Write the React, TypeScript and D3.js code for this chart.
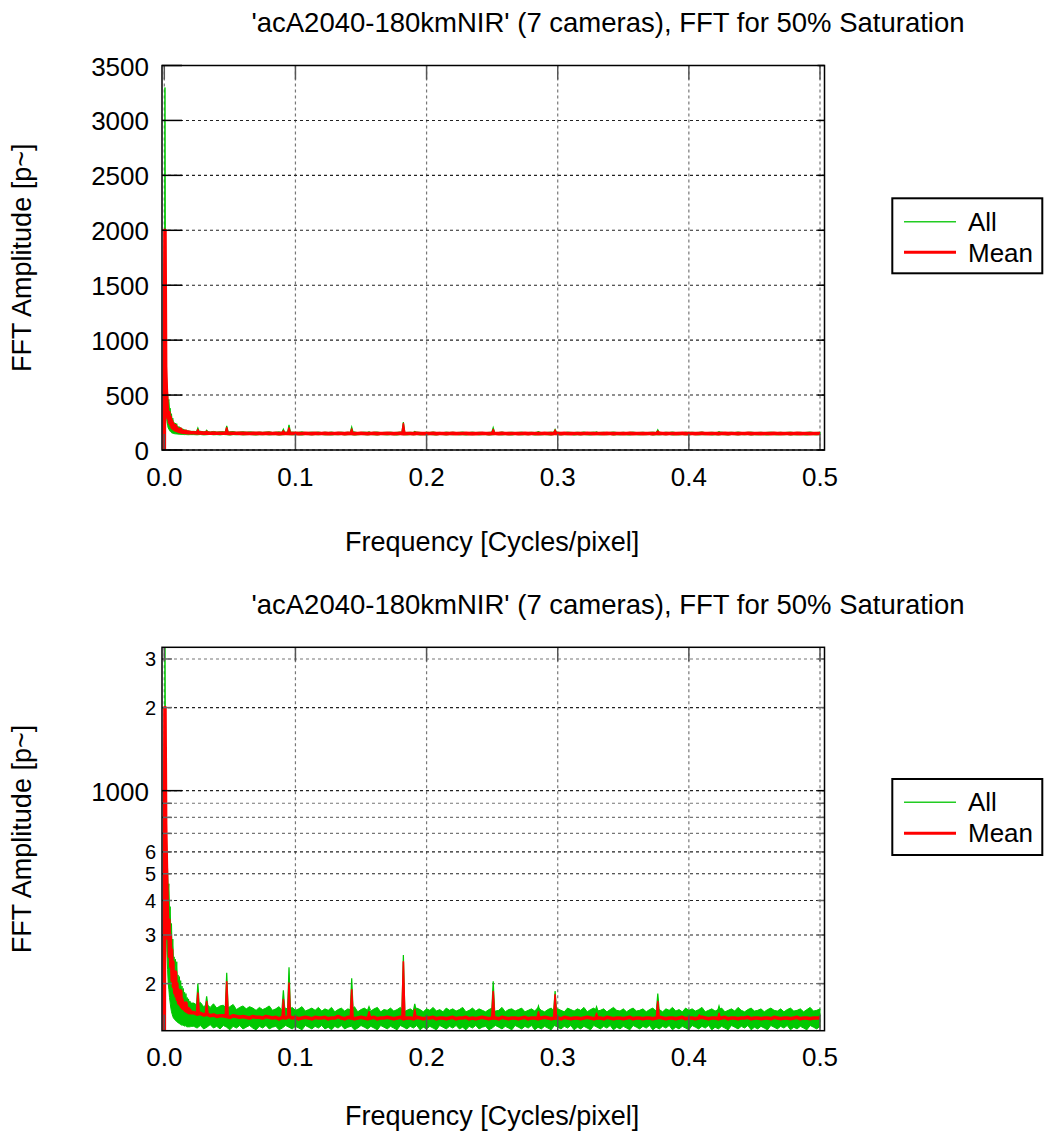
import React from 'react';
import * as d3 from 'd3';

// ---------------- data ----------------
const titleText = "'acA2040-180kmNIR' (7 cameras), FFT for 50% Saturation";
const xAxisLabel = 'Frequency [Cycles/pixel]';
const yAxisLabel = 'FFT Amplitude [p~]';
const legendLabels = ['All', 'Mean'];

const xTicks = [0, 0.1, 0.2, 0.3, 0.4, 0.5];
const xTickLabels = ['0.0', '0.1', '0.2', '0.3', '0.4', '0.5'];
const linTicks = [0, 500, 1000, 1500, 2000, 2500, 3000, 3500];
const linTickLabels = ['0', '500', '1000', '1500', '2000', '2500', '3000', '3500'];
const logTicks = [200, 300, 400, 500, 600, 700, 800, 900, 1000, 2000, 3000];
const logTickLabels = ['2', '3', '4', '5', '6', '', '', '', '1000', '2', '3'];
const linDomain = [0, 3500];
const logDomain = [135, 3307];

const freqs = [
  0, 0.0005, 0.001, 0.0015, 0.002, 0.0025, 0.003, 0.0035, 0.004, 0.0045, 0.005, 0.0055, 0.006, 0.0065, 0.007, 0.0075, 0.008, 0.0085, 0.009, 0.0095,
  0.01, 0.0105, 0.011, 0.0115, 0.012, 0.0125, 0.013, 0.0135, 0.014, 0.0145, 0.015, 0.0155, 0.016, 0.0165, 0.017, 0.0175, 0.018, 0.0185, 0.019, 0.0195, 0.02,
  0.0225, 0.025, 0.0275, 0.03, 0.0325, 0.035, 0.0375, 0.04, 0.0425, 0.045, 0.0475, 0.05, 0.0525, 0.055, 0.0575, 0.06, 0.0625, 0.065, 0.0675, 0.07,
  0.0725, 0.075, 0.0775, 0.08, 0.0825, 0.085, 0.0875, 0.09, 0.0925, 0.095, 0.0975, 0.1, 0.1025, 0.105, 0.1075, 0.11, 0.1125, 0.115, 0.1175, 0.12,
  0.1225, 0.125, 0.1275, 0.13, 0.1325, 0.135, 0.1375, 0.14, 0.1425, 0.145, 0.1475, 0.15, 0.1525, 0.155, 0.1575, 0.16, 0.1625, 0.165, 0.1675, 0.17,
  0.1725, 0.175, 0.1775, 0.18, 0.1825, 0.185, 0.1875, 0.19, 0.1925, 0.195, 0.1975, 0.2, 0.2025, 0.205, 0.2075, 0.21, 0.2125, 0.215, 0.2175, 0.22,
  0.2225, 0.225, 0.2275, 0.23, 0.2325, 0.235, 0.2375, 0.24, 0.2425, 0.245, 0.2475, 0.25, 0.2525, 0.255, 0.2575, 0.26, 0.2625, 0.265, 0.2675, 0.27,
  0.2725, 0.275, 0.2775, 0.28, 0.2825, 0.285, 0.2875, 0.29, 0.2925, 0.295, 0.2975, 0.3, 0.3025, 0.305, 0.3075, 0.31, 0.3125, 0.315, 0.3175, 0.32,
  0.3225, 0.325, 0.3275, 0.33, 0.3325, 0.335, 0.3375, 0.34, 0.3425, 0.345, 0.3475, 0.35, 0.3525, 0.355, 0.3575, 0.36, 0.3625, 0.365, 0.3675, 0.37,
  0.3725, 0.375, 0.3775, 0.38, 0.3825, 0.385, 0.3875, 0.39, 0.3925, 0.395, 0.3975, 0.4, 0.4025, 0.405, 0.4075, 0.41, 0.4125, 0.415, 0.4175, 0.42,
  0.4225, 0.425, 0.4275, 0.43, 0.4325, 0.435, 0.4375, 0.44, 0.4425, 0.445, 0.4475, 0.45, 0.4525, 0.455, 0.4575, 0.46, 0.4625, 0.465, 0.4675, 0.47,
  0.4725, 0.475, 0.4775, 0.48, 0.4825, 0.485, 0.4875, 0.49, 0.4925, 0.495, 0.4975, 0.5,
];

const meanAmp = [
  0, 2000, 760, 560, 430, 330, 290, 340, 250, 300, 230, 265, 205, 240, 195, 210, 185, 220, 180, 200,
  175, 190, 170, 182, 168, 188, 165, 175, 163, 170, 162, 168, 160, 170, 159, 163, 158, 162, 157, 160, 157,
  157, 155, 156, 154, 155, 153, 154, 152, 153, 153, 152, 151, 153, 152, 151, 152, 151, 150, 152, 151,
  151, 150, 152, 151, 150, 151, 149, 151, 150, 152, 150, 151, 149, 150, 151, 150, 149, 151, 150, 150,
  151, 149, 150, 150, 152, 150, 149, 151, 150, 149, 150, 151, 150, 149, 150, 151, 149, 150, 150, 151,
  150, 149, 150, 151, 149, 150, 150, 149, 151, 150, 149, 150, 150, 151, 149, 150, 150, 149, 150, 151,
  149, 150, 150, 151, 149, 150, 149, 150, 151, 150, 149, 150, 150, 149, 151, 150, 149, 150, 150, 149,
  150, 151, 149, 150, 150, 149, 150, 151, 150, 149, 150, 150, 149, 151, 150, 149, 150, 150, 149, 150,
  151, 150, 149, 150, 150, 149, 151, 150, 149, 150, 150, 149, 150, 151, 149, 150, 150, 149, 150, 150,
  149, 150, 151, 150, 149, 150, 150, 149, 150, 151, 149, 150, 150, 149, 150, 151, 150, 149, 150, 150,
  149, 150, 151, 149, 150, 150, 149, 150, 150, 151, 149, 150, 150, 149, 150, 150, 149, 151, 150, 149,
  150, 150, 149, 150, 151, 149, 150, 150, 149, 150, 150, 150,
];

const allMax = [
  0, 3300, 1050, 720, 580, 520, 430, 460, 360, 380, 300, 330, 260, 290, 245, 250, 232, 245, 215, 240,
  205, 215, 198, 212, 192, 205, 186, 196, 182, 192, 178, 186, 176, 184, 172, 178, 170, 176, 168, 173, 170,
  170, 167, 171, 165, 168, 164, 169, 163, 166, 167, 162, 165, 168, 161, 164, 166, 162, 165, 163, 160,
  164, 161, 163, 166, 160, 162, 165, 159, 163, 161, 164, 160, 162, 165, 159, 161, 163, 160, 164, 159,
  162, 160, 164, 158, 161, 163, 159, 162, 160, 165, 158, 161, 163, 160, 159, 162, 164, 158, 161, 160,
  163, 159, 161, 164, 158, 160, 162, 159, 163, 161, 158, 162, 160, 164, 159, 161, 158, 163, 160, 162,
  159, 161, 164, 158, 160, 163, 159, 162, 160, 158, 161, 163, 159, 160, 164, 158, 161, 162, 159, 161,
  163, 158, 160, 162, 159, 164, 160, 158, 161, 163, 159, 162, 160, 158, 163, 161, 159, 162, 160, 164,
  158, 161, 163, 159, 160, 162, 158, 161, 164, 160, 159, 162, 158, 161, 163, 159, 160, 162, 158, 161,
  163, 159, 161, 158, 162, 160, 164, 159, 161, 158, 163, 160, 162, 159, 161, 164, 158, 160, 162, 159,
  161, 163, 158, 160, 162, 159, 164, 160, 158, 161, 163, 159, 160, 162, 158, 161, 163, 160, 159, 162,
  158, 161, 163, 159, 160, 162, 158, 161, 164, 159, 160, 162,
];

const allMin = [
  0, 1100, 480, 330, 260, 225, 200, 190, 178, 170, 163, 158, 155, 152, 150, 149, 148, 147, 146, 146,
  145, 144, 144, 143, 143, 142, 142, 141, 142, 141, 141, 140, 141, 140, 140, 139, 140, 139, 140, 139, 140,
  140, 138, 141, 137, 139, 142, 138, 140, 137, 141, 139, 136, 140, 138, 141, 137, 139, 141, 138, 136,
  140, 138, 141, 137, 139, 140, 136, 138, 141, 139, 137, 140, 138, 136, 141, 139, 137, 140, 138, 141,
  137, 139, 136, 140, 138, 141, 137, 139, 140, 136, 138, 141, 139, 137, 140, 138, 136, 141, 139, 137,
  140, 138, 136, 141, 139, 137, 140, 138, 141, 136, 139, 137, 140, 138, 136, 141, 139, 137, 140, 138,
  141, 137, 139, 136, 140, 138, 141, 137, 139, 140, 136, 138, 141, 139, 137, 140, 138, 136, 141, 139,
  137, 140, 138, 141, 136, 139, 137, 140, 138, 136, 141, 139, 137, 140, 138, 141, 136, 139, 137, 140,
  138, 136, 141, 139, 137, 140, 138, 141, 136, 139, 137, 140, 138, 136, 141, 139, 137, 140, 138, 141,
  136, 139, 137, 140, 138, 141, 136, 139, 137, 140, 138, 136, 141, 139, 137, 140, 138, 141, 136, 139,
  137, 140, 138, 136, 141, 139, 137, 140, 138, 141, 136, 139, 137, 140, 138, 136, 141, 139, 137, 140,
  138, 141, 136, 139, 137, 140, 138, 136, 141, 139, 137, 140,
];

// narrow spectral peaks
const peakFreqs = [0.0256, 0.0323, 0.0476, 0.0908, 0.0951, 0.1429, 0.1561, 0.1823, 0.191, 0.2508, 0.2853, 0.298, 0.3296, 0.3763, 0.408, 0.423];
const peakMean = [185, 172, 203, 175, 201, 190, 158, 240, 161, 187, 158, 182, 156, 172, 154, 156];
const peakAll = [200, 180, 219, 189, 229, 209, 165, 254, 169, 204, 166, 188, 165, 184, 158, 166];
const peakMeanBase = [155, 154, 152, 150, 151, 149, 151, 150, 150, 150, 150, 150, 150, 150, 150, 149];
const peakAllBase = [165, 163, 162, 160, 160, 160, 160, 160, 159, 159, 159, 159, 159, 159, 159, 159];

// ---------------- layout ----------------
const FONT = '"Liberation Sans", Arial, Helvetica, sans-serif';
const GREEN = '#00c800';
const RED = '#ff0000';
const X0 = 164.3;
const X1 = 820;
const FRAME_L = 162;
const FRAME_R = 824.5;
const PEAK_HW = 0.0011;

const panels = [
  {
    id: 'lin', kind: 'linear', top: 65.5, bottom: 450, titleY: 32, xTickY: 485.7, xLabelY: 551,
    legTop: 198.3, legBottom: 273.3, legLine1: 221.7, legLine2: 252.3, legText1: 230.5, legText2: 261.5,
  },
  {
    id: 'log', kind: 'log', top: 647.3, bottom: 1030.7, titleY: 613.5, xTickY: 1065.7, xLabelY: 1125,
    legTop: 779, legBottom: 855, legLine1: 802.3, legLine2: 833.3, legText1: 811, legText2: 842,
  },
];

type P = typeof panels[number];

function Panel({ p }: { p: P }) {
  const x = d3.scaleLinear().domain([0, 0.5]).range([X0, X1]);
  const isLog = p.kind === 'log';
  const yScale: any = isLog
    ? d3.scaleLog().domain(logDomain).range([p.bottom, p.top]).clamp(true)
    : d3.scaleLinear().domain(linDomain).range([p.bottom, p.top]);
  const y = (v: number) => (isLog && v <= 0 ? p.bottom : yScale(v));

  const ticks = isLog ? logTicks : linTicks;
  const tickLabels = isLog ? logTickLabels : linTickLabels;

  const n = Math.min(freqs.length, meanAmp.length, allMax.length, allMin.length);
  const idx = d3.range(n);
  const area = d3.area<number>().x(i => x(freqs[i])).y0(i => y(allMin[i])).y1(i => y(allMax[i]));
  const line = d3.line<number>().x(i => x(freqs[i])).y(i => y(meanAmp[i]));
  const tri = d3.line<[number, number]>().x(d => x(d[0])).y(d => y(d[1]));
  const clipId = `clip-${p.id}`;
  const midY = (p.top + p.bottom) / 2;

  return (
    <g>
      <defs>
        <clipPath id={clipId}>
          <rect x={FRAME_L} y={p.top} width={FRAME_R - FRAME_L} height={p.bottom - p.top} />
        </clipPath>
      </defs>
      <text x={608} y={p.titleY} textAnchor="middle" fontSize={27.5} fontFamily={FONT} fill="#000">{titleText}</text>
      {xTicks.map((t, i) => (
        <line key={`vg${i}`} x1={x(t)} x2={x(t)} y1={p.top} y2={p.bottom} stroke="#777" strokeWidth={1.2} strokeDasharray="3,3" />
      ))}
      {ticks.map((t, i) => {
        const major = !isLog || [300, 400, 500, 600, 1000, 2000].includes(t);
        return (
          <line key={`hg${i}`} x1={FRAME_L} x2={FRAME_R} y1={yScale(t)} y2={yScale(t)}
            stroke={major ? '#222' : '#777'} strokeWidth={1.1} strokeDasharray="3,3" />
        );
      })}
      <g clipPath={`url(#${clipId})`}>
        <path d={area(idx) || ''} fill={GREEN} stroke={GREEN} strokeWidth={1} />
        {peakFreqs.map((f, i) => (
          <path key={`pa${i}`} d={tri([[f - PEAK_HW, peakAllBase[i]], [f, peakAll[i]], [f + PEAK_HW, peakAllBase[i]]]) || ''}
            fill={GREEN} stroke={GREEN} strokeWidth={1.2} />
        ))}
        <path d={line(idx) || ''} fill="none" stroke={RED} strokeWidth={3.6} strokeLinejoin="round" />
        {peakFreqs.map((f, i) => (
          <path key={`pm${i}`} d={tri([[f - PEAK_HW, peakMeanBase[i]], [f, peakMean[i]], [f + PEAK_HW, peakMeanBase[i]]]) || ''}
            fill={RED} stroke={RED} strokeWidth={1.6} strokeLinejoin="round" />
        ))}
      </g>
      {xTicks.map((t, i) => (
        <g key={`xt${i}`}>
          <line x1={x(t)} x2={x(t)} y1={p.bottom} y2={p.bottom - 16} stroke="#555" strokeWidth={1.5} />
          <line x1={x(t)} x2={x(t)} y1={p.top} y2={p.top + 14} stroke="#555" strokeWidth={1.5} />
          <text x={x(t)} y={p.xTickY} textAnchor="middle" fontSize={26} fontFamily={FONT}>{xTickLabels[i]}</text>
        </g>
      ))}
      {ticks.map((t, i) => {
        const big = !isLog || t === 1000;
        const lbl = tickLabels[i];
        return (
          <g key={`yt${i}`}>
            <line x1={FRAME_L} x2={FRAME_L + (big ? 20 : 10)} y1={yScale(t)} y2={yScale(t)} stroke={big ? '#000' : '#666'} strokeWidth={1.5} />
            <line x1={FRAME_R - 7} x2={FRAME_R} y1={yScale(t)} y2={yScale(t)} stroke={big ? '#000' : '#666'} strokeWidth={1.5} />
            {lbl && (
              <text x={big ? 149 : 156} y={yScale(t) + (big ? 10 : 7.5)} textAnchor="end"
                fontSize={big ? 26 : 20} fontFamily={FONT}>{lbl}</text>
            )}
          </g>
        );
      })}
      <rect x={FRAME_L} y={p.top} width={FRAME_R - FRAME_L} height={p.bottom - p.top} fill="none" stroke="#000" strokeWidth={1.5} />
      <text x={(X0 + X1) / 2} y={p.xLabelY} textAnchor="middle" fontSize={27} fontFamily={FONT}>{xAxisLabel}</text>
      <text transform={`translate(31,${midY}) rotate(-90)`} textAnchor="middle" fontSize={27} fontFamily={FONT}>{yAxisLabel}</text>
      <rect x={892.3} y={p.legTop} width={150} height={p.legBottom - p.legTop} fill="#fff" stroke="#000" strokeWidth={2} />
      <line x1={904} x2={956} y1={p.legLine1} y2={p.legLine1} stroke="#22cc22" strokeWidth={1.5} />
      <line x1={904} x2={956} y1={p.legLine2} y2={p.legLine2} stroke={RED} strokeWidth={3} />
      <text x={968} y={p.legText1} fontSize={26} fontFamily={FONT}>{legendLabels[0]}</text>
      <text x={968} y={p.legText2} fontSize={26} fontFamily={FONT}>{legendLabels[1]}</text>
    </g>
  );
}

export default function App() {
  return (
    <svg width={1044} height={1138} style={{ position: 'absolute', left: 0, top: 0, background: '#fff' }}>
      <rect x={0} y={0} width={1044} height={1138} fill="#fff" />
      {panels.map(p => <Panel key={p.id} p={p} />)}
    </svg>
  );
}
